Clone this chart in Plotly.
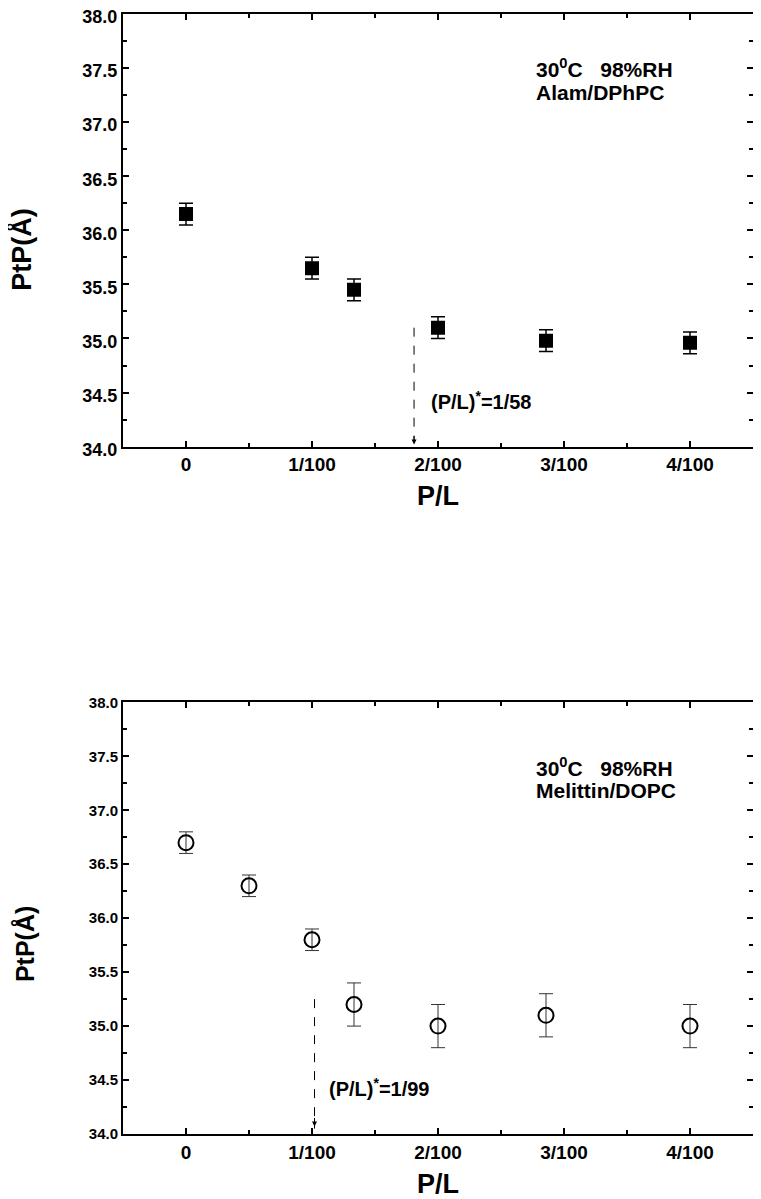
import plotly.graph_objects as go
from plotly.subplots import make_subplots

# P/L values and PtP thickness (Angstrom)
alam_pl = [0, 1/100, 1/75, 2/100, 1/35, 4/100]
alam_ptp = [36.15, 35.65, 35.45, 35.10, 34.98, 34.96]
alam_err = [0.10, 0.10, 0.10, 0.10, 0.10, 0.10]

mel_pl = [0, 1/200, 1/100, 1/75, 2/100, 1/35, 4/100]
mel_ptp = [36.70, 36.30, 35.80, 35.20, 35.00, 35.10, 35.00]
mel_err = [0.10, 0.10, 0.10, 0.20, 0.20, 0.20, 0.20]

# critical P/L markers: (x position, top of arrow)
alam_crit = [0.0181, 35.10]
mel_crit = [0.0102, 35.25]

tick_vals = [0, 0.01, 0.02, 0.03, 0.04]
tick_text = ["0", "1/100", "2/100", "3/100", "4/100"]

FONT = "Liberation Sans, Arial, sans-serif"

fig = make_subplots(rows=2, cols=1)

fig.add_trace(go.Scatter(
    x=alam_pl, y=alam_ptp, mode="markers",
    marker=dict(symbol="square", size=14, color="black"),
    error_y=dict(type="data", array=alam_err, color="black", thickness=1.5, width=7),
    showlegend=False,
), row=1, col=1)

fig.add_trace(go.Scatter(
    x=mel_pl, y=mel_ptp, mode="markers",
    marker=dict(symbol="circle-open", size=15, color="black", line=dict(width=2)),
    error_y=dict(type="data", array=mel_err, color="#333333", thickness=1, width=7),
    showlegend=False,
), row=2, col=1)

# dashed arrow lines
for crit, r in [(alam_crit, 1), (mel_crit, 2)]:
    fig.add_trace(go.Scatter(
        x=[crit[0], crit[0]], y=[crit[1], 34.05], mode="lines",
        line=dict(color="black", width=1, dash="dash"),
        showlegend=False, hoverinfo="skip",
    ), row=r, col=1)

lab_font = dict(family=FONT, size=20, color="black", weight="bold")
txt_font = dict(family=FONT, size=21, color="black", weight="bold")

annos = [
    # arrow heads
    dict(x=alam_crit[0], y=34.02, xref="x", yref="y", ax=0, ay=-10, text="",
         showarrow=True, arrowhead=2, arrowsize=1, arrowwidth=1, arrowcolor="black"),
    dict(x=mel_crit[0], y=34.07, xref="x2", yref="y2", ax=0, ay=-10, text="",
         showarrow=True, arrowhead=2, arrowsize=1, arrowwidth=1, arrowcolor="black"),
    # labels
    dict(x=0.0193, y=34.43, xref="x", yref="y", text="(P/L)<sup>*</sup>=1/58",
         showarrow=False, xanchor="left", font=lab_font),
    dict(x=0.0112, y=34.43, xref="x2", yref="y2", text="(P/L)<sup>*</sup>=1/99",
         showarrow=False, xanchor="left", font=lab_font),
    dict(x=0.0276, y=37.5, xref="x", yref="y", text="30<sup>0</sup>C   98%RH",
         showarrow=False, xanchor="left", font=txt_font),
    dict(x=0.0276, y=37.27, xref="x", yref="y", text="Alam/DPhPC",
         showarrow=False, xanchor="left", font=txt_font),
    dict(x=0.0276, y=37.4, xref="x2", yref="y2", text="30<sup>0</sup>C   98%RH",
         showarrow=False, xanchor="left", font=txt_font),
    dict(x=0.0276, y=37.18, xref="x2", yref="y2", text="Melittin/DOPC",
         showarrow=False, xanchor="left", font=txt_font),
    # y axis titles
    dict(x=0, y=35.82, xref="paper", yref="y", xshift=-101, textangle=-90,
         xanchor="center", yanchor="middle", text="PtP(Å)", showarrow=False,
         font=dict(family=FONT, size=27, color="black", weight="bold")),
    dict(x=0, y=35.76, xref="paper", yref="y2", xshift=-98, textangle=-90,
         xanchor="center", yanchor="middle", text="PtP(Å)", showarrow=False,
         font=dict(family=FONT, size=25, color="black", weight="bold")),
]

axis_common = dict(
    showline=True, linewidth=2, linecolor="black", mirror="ticks",
    ticks="inside", tickwidth=1.5, tickcolor="black", ticklen=6,
    showgrid=False, zeroline=False, automargin=False,
)

fig.update_xaxes(
    range=[-0.005, 0.045], tickmode="array", tickvals=tick_vals, ticktext=tick_text,
    tickfont=dict(family=FONT, size=19, color="black", weight="bold"),
    minor=dict(ticks="inside", tickvals=[0.005, 0.015, 0.025, 0.035], ticklen=4,
               tickwidth=1.5, tickcolor="black"),
    title=dict(text="P/L", font=dict(family=FONT, size=27, color="black", weight="bold"),
               standoff=12),
    **axis_common,
)
fig.update_yaxes(
    range=[34, 38], dtick=0.5, tickformat=".1f", ticklabeloverflow="allow",
    minor=dict(ticks="inside", dtick=0.25, ticklen=4, tickwidth=1.5, tickcolor="black"),
    **axis_common,
)
fig.update_yaxes(tickfont=dict(family=FONT, size=18, color="black", weight="bold"),
                 ticklabelshift=3, row=1, col=1)
fig.update_yaxes(tickfont=dict(family=FONT, size=15, color="black", weight="bold"),
                 row=2, col=1)

# the page body adds an 8px margin, so the figure is 8px smaller
fig.update_layout(
    width=753, height=1191,
    margin=dict(l=115, r=8, t=6, b=65),
    plot_bgcolor="white", paper_bgcolor="white",
    annotations=annos,
)
fig.update_layout(
    yaxis=dict(domain=[0.6137, 1.0]),
    yaxis2=dict(domain=[0.0, 0.3854]),
)

fig.write_html("out.html")
